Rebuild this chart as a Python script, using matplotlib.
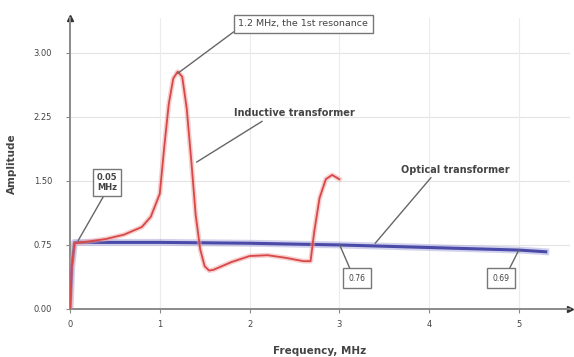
import matplotlib
matplotlib.use("Agg")
import matplotlib.pyplot as plt
import numpy as np

# --- data ---
freq_inductive = [0, 0.02, 0.05, 0.2, 0.4, 0.6, 0.8, 0.9, 1.0, 1.05, 1.1, 1.15, 1.2,
                  1.25, 1.3, 1.35, 1.4, 1.45, 1.5, 1.55, 1.6, 1.8, 2.0, 2.2, 2.4,
                  2.6, 2.68, 2.72, 2.78, 2.85, 2.92, 3.0]
amp_inductive = [0, 0.5, 0.77, 0.79, 0.82, 0.87, 0.96, 1.08, 1.35, 1.9, 2.4, 2.7, 2.78,
                 2.72, 2.35, 1.75, 1.1, 0.7, 0.5, 0.45, 0.46, 0.55, 0.62, 0.63, 0.60,
                 0.56, 0.56, 0.9, 1.3, 1.52, 1.57, 1.52]

freq_optical = [0, 0.02, 0.05, 1.0, 2.0, 3.0, 4.0, 5.0, 5.3]
amp_optical = [0, 0.5, 0.78, 0.78, 0.77, 0.75, 0.72, 0.69, 0.67]

y_ticks = [0.0, 0.75, 1.5, 2.25, 3.0]
y_tick_labels = ["0.00", "0.75", "1.50", "2.25", "3.00"]
x_ticks = [0, 1, 2, 3, 4, 5]

# --- figure ---
fig = plt.figure(figsize=(5.74, 3.57), dpi=100)
ax = fig.add_axes([0.122, 0.1345, 0.871, 0.8155])
ax.set_xlim(0, 5.57)
ax.set_ylim(0, 3.41)

text_col = "#444444"
axis_col = "#8a8a8a"

for y in y_ticks[1:]:
    ax.axhline(y, color="#e4e4e4", lw=0.8, zorder=0)
for x in x_ticks[1:]:
    ax.axvline(x, color="#ececec", lw=0.8, zorder=0)

# soft halo + line, like the blurry original
ax.plot(freq_optical, amp_optical, color="#9a9ad8", lw=5, alpha=0.45, zorder=2)
ax.plot(freq_optical, amp_optical, color="#4a4aa8", lw=2.2, zorder=3)
ax.plot(freq_inductive, amp_inductive, color="#f0a0a0", lw=3.5, alpha=0.5, zorder=4)
ax.plot(freq_inductive, amp_inductive, color="#d84848", lw=1.3, zorder=5)

for s in ("top", "right"):
    ax.spines[s].set_visible(False)
for s in ("left", "bottom"):
    ax.spines[s].set_color(axis_col)
    ax.spines[s].set_linewidth(1.4)
ax.plot(1, 0, ">", color="#333333", ms=4, transform=ax.transAxes, clip_on=False)
ax.plot(0, 1, "^", color="#333333", ms=4, transform=ax.transAxes, clip_on=False)

ax.set_xticks(x_ticks)
ax.set_yticks(y_ticks)
ax.set_yticklabels(y_tick_labels)
ax.tick_params(colors=axis_col, labelcolor=text_col, labelsize=6, length=3)
ax.tick_params(axis="x", pad=5)
ax.tick_params(axis="y", pad=10)

ax.set_xlabel("Frequency, MHz", fontsize=7.5, fontweight="bold", color=text_col, labelpad=12)
ax.set_ylabel("Amplitude", fontsize=7.5, fontweight="bold", color=text_col, labelpad=12)

# --- annotations ---
box = dict(boxstyle="square,pad=0.45", fc="white", ec="#777777", lw=1.0)
small_box = dict(boxstyle="square,pad=0.7", fc="white", ec="#777777", lw=1.0)


def leader(rel):
    return dict(arrowstyle="-", color="#666666", lw=1.0, shrinkA=0, shrinkB=0, relpos=rel)


ax.annotate("1.2 MHz, the 1st resonance", xy=(1.2, 2.76), xytext=(2.6, 3.34),
            fontsize=6.8, color=text_col, ha="center", va="center",
            bbox=box, arrowprops=leader((0.0, 0.0)), zorder=6)
ax.annotate("Inductive transformer", xy=(1.41, 1.72), xytext=(2.5, 2.29),
            fontsize=7, fontweight="bold", color=text_col, ha="center", va="center",
            arrowprops=leader((0.27, 0.0)), zorder=6)
ax.annotate("Optical transformer", xy=(3.4, 0.77), xytext=(4.29, 1.63),
            fontsize=7, fontweight="bold", color=text_col, ha="center", va="center",
            arrowprops=leader((0.3, 0.0)), zorder=6)
ax.annotate("0.05\nMHz", xy=(0.09, 0.8), xytext=(0.41, 1.48),
            fontsize=6, fontweight="bold", color=text_col, ha="center", va="center",
            bbox=box, arrowprops=leader((0.45, 0.0)), zorder=6)
ax.annotate("0.76", xy=(3.0, 0.76), xytext=(3.2, 0.36),
            fontsize=5.5, color=text_col, ha="center", va="center",
            bbox=small_box, arrowprops=leader((0.2, 1.0)), zorder=6)
ax.annotate("0.69", xy=(5.0, 0.69), xytext=(4.8, 0.36),
            fontsize=5.5, color=text_col, ha="center", va="center",
            bbox=small_box, arrowprops=leader((0.85, 1.0)), zorder=6)

fig.savefig("out.png", dpi=100)
